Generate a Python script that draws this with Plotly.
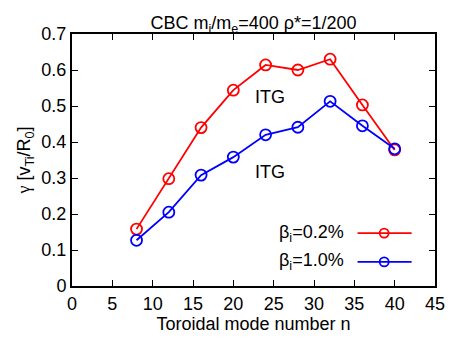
import plotly.graph_objects as go

# Toroidal mode numbers and linear growth rates for the two beta_i values
n_modes = [8, 12, 16, 20, 24, 28, 32, 36, 40]
gamma_beta02 = [0.158, 0.298, 0.440, 0.544, 0.614, 0.600, 0.630, 0.503, 0.378]
gamma_beta10 = [0.127, 0.205, 0.308, 0.358, 0.420, 0.441, 0.513, 0.445, 0.381]

series_names = ["β<sub>i</sub>=0.2%", "β<sub>i</sub>=1.0%"]
series_colors = ["#ff0000", "#0000ff"]

# Key entries (line sample to the right of the label), in data units
key_x = [35.4, 38.7, 42.1]
key_y = [0.147, 0.067]
key_label_x = 34.0

font_family = "Liberation Sans, Arial, sans-serif"

fig = go.Figure()
for name, ys, col in zip(series_names, [gamma_beta02, gamma_beta10], series_colors):
    fig.add_trace(go.Scatter(
        x=n_modes, y=ys, mode="lines+markers", name=name,
        line=dict(color=col, width=1.8),
        marker=dict(symbol="circle-open", size=11, color=col, line=dict(width=1.8, color=col)),
        showlegend=False, cliponaxis=False,
    ))

for name, ky, col in zip(series_names, key_y, series_colors):
    fig.add_trace(go.Scatter(
        x=[key_x[0], key_x[2]], y=[ky, ky], mode="lines",
        line=dict(color=col, width=1.8), showlegend=False, hoverinfo="skip",
        cliponaxis=False,
    ))
    fig.add_trace(go.Scatter(
        x=[key_x[1]], y=[ky], mode="markers",
        marker=dict(symbol="circle-open", size=9, color=col, line=dict(width=1.8, color=col)),
        showlegend=False, hoverinfo="skip", cliponaxis=False,
    ))
    fig.add_annotation(x=key_label_x, y=ky, text=name, showarrow=False,
                       xanchor="right", yanchor="middle",
                       font=dict(family=font_family, size=18, color="black"))

fig.add_annotation(x=24.5, y=0.525, text="ITG", showarrow=False,
                   font=dict(family=font_family, size=18, color="black"))
fig.add_annotation(x=24.5, y=0.317, text="ITG", showarrow=False,
                   font=dict(family=font_family, size=18, color="black"))

axis_common = dict(
    showline=True, linecolor="black", linewidth=2, mirror="ticks",
    ticks="inside", ticklen=6, tickwidth=1, tickcolor="black",
    showgrid=False, zeroline=False,
    tickfont=dict(family=font_family, size=18, color="black"),
)

fig.update_layout(
    width=457, height=343,
    margin=dict(l=72, r=13, t=34, b=57),
    paper_bgcolor="white", plot_bgcolor="white",
    title=dict(text="CBC m<sub>i</sub>/m<sub>e</sub>=400 ρ*=1/200",
               x=0.5, xref="paper", xanchor="center", y=1, yref="paper",
               yanchor="bottom", pad=dict(b=5),
               font=dict(family=font_family, size=18, color="black")),
    xaxis=dict(range=[0, 45], dtick=5, tick0=0,
               title=dict(text="Toroidal mode number n", standoff=4,
                          font=dict(family=font_family, size=18, color="black")),
               **axis_common),
    yaxis=dict(range=[0, 0.7], dtick=0.1, tick0=0, tickformat="~g",
               title=dict(text="<span style=\"font-family:'Liberation Serif', serif\">γ</span> [v<sub>Ti</sub>/R<sub>0</sub>]",
                          standoff=6,
                          font=dict(family=font_family, size=18, color="black")),
               **axis_common),
)

fig.write_html("out.html")
